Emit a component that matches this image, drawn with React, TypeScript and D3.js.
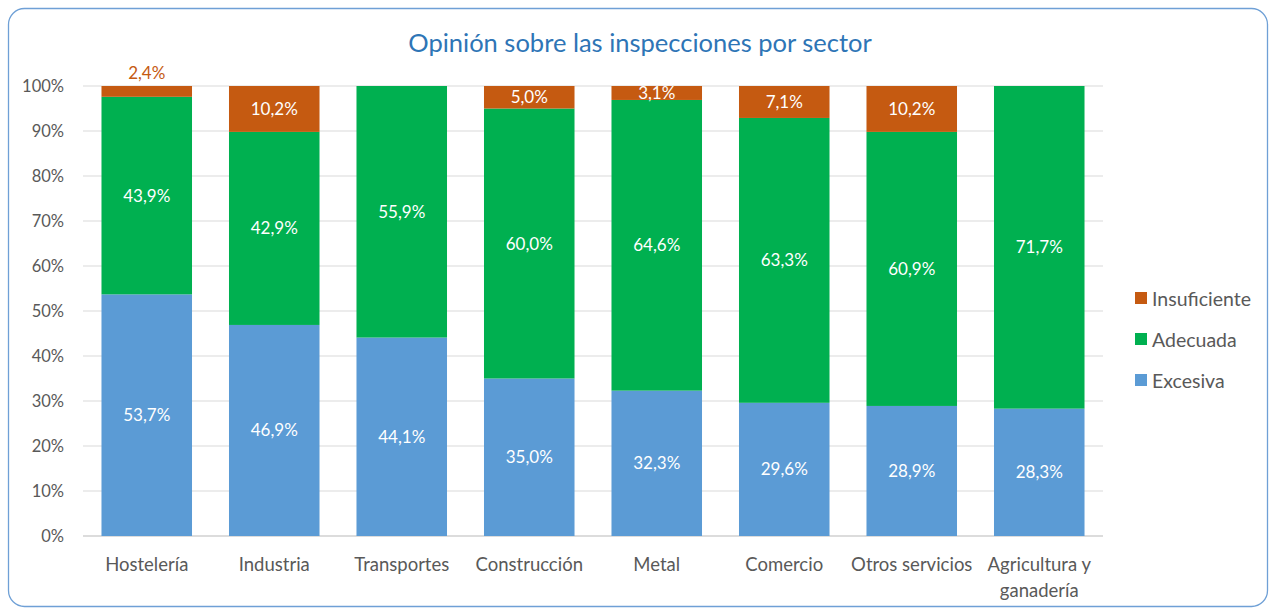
import React from "react";
import * as d3 from "d3";

const categories = ["Hostelería", "Industria", "Transportes", "Construcción", "Metal", "Comercio", "Otros servicios", "Agricultura y|ganadería"];
const excesiva = [53.7, 46.9, 44.1, 35.0, 32.3, 29.6, 28.9, 28.3];
const adecuada = [43.9, 42.9, 55.9, 60.0, 64.6, 63.3, 60.9, 71.7];
const insuficiente = [2.4, 10.2, 0, 5.0, 3.1, 7.1, 10.2, 0];
const seriesNames = ["Excesiva", "Adecuada", "Insuficiente"];
const yTicks = [0, 10, 20, 30, 40, 50, 60, 70, 80, 90, 100];

const colors: Record<string, string> = {
  Excesiva: "#5B9BD5",
  Adecuada: "#00B050",
  Insuficiente: "#C55A11",
};

const W = 1271;
const H = 611;
const FONT = "Lato, 'Open Sans', sans-serif";

export default function App() {
  const x = d3.scaleBand().domain(categories).range([83, 1103]).paddingInner(0.29).paddingOuter(0.145);
  const y = d3.scaleLinear().domain([0, 100]).range([536, 86]);
  const rows = categories.map((c, i) => ({ cat: c, Excesiva: excesiva[i], Adecuada: adecuada[i], Insuficiente: insuficiente[i] }));
  const stack = d3.stack<any>().keys(seriesNames)(rows);
  const fmt = (v: number) => v.toFixed(1).replace(".", ",") + "%";

  return (
    <svg width={W} height={H} style={{ position: "absolute", left: 0, top: 0, background: "#fff" }} fontFamily={FONT}>
      <rect x={8.5} y={8.5} width={1259} height={598} rx={16} fill="#fff" stroke="#6FA0D6" strokeWidth={1.3} />
      <text x={640} y={52} textAnchor="middle" fontSize={25.5} fill="#2E75B6">Opinión sobre las inspecciones por sector</text>
      {yTicks.map((t) => (
        <g key={t}>
          <line x1={83} x2={1103} y1={y(t)} y2={y(t)} stroke={t === 0 ? "#D0D0D0" : "#D9D9D9"} strokeWidth={t === 0 ? 1.5 : 1} />
          <text x={64} y={y(t) + 6} textAnchor="end" fontSize={16.5} fill="#595959">{t + "%"}</text>
        </g>
      ))}
      {stack.map((s) => (
        <g key={s.key} fill={colors[s.key]}>
          {s.map((d, i) => {
            const v = d[1] - d[0];
            if (v <= 0) return null;
            return <rect key={i} x={x(categories[i])} y={y(d[1])} width={x.bandwidth()} height={y(d[0]) - y(d[1])} />;
          })}
        </g>
      ))}
      {stack.map((s) => (
        <g key={s.key + "l"}>
          {s.map((d, i) => {
            const v = d[1] - d[0];
            if (v <= 0) return null;
            const cx = (x(categories[i]) as number) + x.bandwidth() / 2;
            const small = v < 3;
            const cy = small ? y(d[1]) - 7 : (y(d[0]) + y(d[1])) / 2 + 6;
            return (
              <text key={i} x={cx} y={cy} textAnchor="middle" fontSize={17} fill={small ? "#C55A11" : "#fff"}>
                {fmt(v)}
              </text>
            );
          })}
        </g>
      ))}
      {categories.map((c) => {
        const lines = c.split("|");
        const cx = (x(c) as number) + x.bandwidth() / 2;
        return (
          <text key={c} x={cx} y={571} textAnchor="middle" fontSize={18.5} fill="#595959">
            {lines.map((l, j) => (
              <tspan key={j} x={cx} dy={j === 0 ? 0 : 26}>{l}</tspan>
            ))}
          </text>
        );
      })}
      {["Insuficiente", "Adecuada", "Excesiva"].map((n, i) => (
        <g key={n} transform={`translate(1135, ${299 + i * 41})`}>
          <rect x={0} y={-7} width={12} height={12} fill={colors[n]} />
          <text x={17} y={6.5} fontSize={19.5} fill="#595959">{n}</text>
        </g>
      ))}
    </svg>
  );
}
